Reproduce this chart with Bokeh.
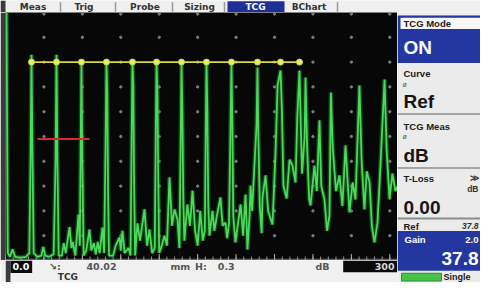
from bokeh.plotting import figure
from bokeh.layouts import column, row
from bokeh.models import Range1d
from bokeh.core.properties import value
from bokeh.embed import file_html
from bokeh.resources import INLINE

# ---------------- data ----------------
# A-scan trace: sound path (mm) and amplitude (% screen height)
trace_mm = [0.8, 1.8, 3.5, 5.5, 7.5, 12.0, 16.0, 18.6, 19.6, 20.3, 21.0, 22.0,
            25.0, 28.0, 29.5, 31.0, 34.0, 37.6, 39.1, 39.8, 40.5, 41.5,
            44.0, 45.5, 47.0, 50.0, 51.5, 52.5, 54.5, 57.0, 58.0, 58.7, 59.3, 60.0, 61.0,
            63.0, 65.6, 67.0, 69.0, 70.5, 72.0, 73.5, 75.7, 77.0, 78.2, 78.8, 79.5, 80.0, 80.8,
            84.0, 86.0, 89.0, 90.0, 91.3, 93.0, 96.0, 97.6, 98.5, 99.1, 99.8, 100.4, 101.2,
            103.0, 105.0, 108.5, 110.5, 112.4, 114.5, 116.5, 117.3, 117.9, 118.6, 119.3, 120.0,
            122.0, 124.1, 126.0, 128.0, 130.0, 131.9, 134.3, 135.8, 136.8, 137.4, 138.1, 138.8, 139.6,
            142.0, 144.0, 146.0, 148.0, 150.0, 152.0, 154.0, 155.6, 156.3, 156.9, 157.6, 158.3, 159.2,
            161.6, 163.0, 165.0, 167.8, 169.5, 171.7, 173.0, 174.5, 175.4, 176.4, 177.1, 177.8, 179.5,
            181.5, 183.5, 185.5, 187.4, 188.9, 190.5, 191.3, 192.5, 194.0, 196.0, 196.7, 197.4, 198.5,
            200.0, 200.6, 203.0, 205.0, 208.4, 210.8, 212.4, 214.7, 215.8, 217.0,
            219.5, 221.7, 224.0, 226.4, 227.8, 229.5, 230.5, 231.5, 233.5, 234.2, 235.5, 237.0,
            238.1, 241.2, 243.0, 245.1, 246.5, 249.0, 251.0, 252.9, 254.0, 255.5, 258.0, 260.7,
            263.0, 265.4, 268.5, 271.0, 273.2, 276.3, 278.0, 280.2, 282.0, 284.2, 286.0, 288.0,
            290.4, 292.7, 295.9, 297.5, 299.8, 302.0, 304.4, 306.0]
trace_amp = [100, 3, 1.5, 4.5, 1.5, 1.2, 1.5, 3, 42, 83, 45, 3,
             1.5, 2, 5.5, 2, 1.5, 2.5, 40, 83, 42, 2,
             2, 7, 3, 13.5, 5, 7.5, 2, 18.5, 6, 45, 80.6, 40, 2,
             4, 12.5, 4, 7, 2.5, 7.5, 3, 13.3, 3, 50, 79.8, 67, 30, 2,
             2, 6, 9.3, 4, 12, 3, 5, 2, 50, 80.6, 70, 30, 2,
             15, 8, 20.6, 6, 12.5, 3, 5, 50, 79.5, 68, 30, 3,
             6, 10, 6, 33.5, 14, 20.6, 16.5, 5, 50, 79, 60, 25, 8,
             22.6, 14, 28.2, 12, 6, 20, 8, 12, 50, 80.6, 60, 22, 10,
             20, 12, 18, 25.4, 14, 15.3, 9, 15, 45, 79, 55, 18, 7.3,
             15, 22.6, 10, 26.6, 4.4, 18, 30.2, 20, 35, 55, 77.8, 50, 22,
             11, 25.4, 34.3, 20, 14.5, 43.5, 70.6, 76.6, 60, 30,
             25, 40.7, 38.3, 31.5, 58, 76.6, 55, 35, 50, 73.8, 45, 25,
             22.2, 38.3, 28, 56.5, 30, 24.6, 12, 18.1, 67.7, 45, 28, 34.3,
             22, 46.4, 19.4, 31.5, 24.6, 70.6, 40, 20.6, 36, 31.5, 14, 7.3,
             15.3, 38.3, 73, 45, 24.6, 35, 28, 30]

# TCG reference points (yellow curve)
tcg_mm = [20.3, 39.8, 59.3, 78.8, 99.1, 117.9, 137.4, 156.9, 176.4, 196.7, 214.7, 229.5]
tcg_amp = [80, 80, 80, 80, 80, 80, 80, 80, 80, 80, 80, 80]

# Gate (red)
gate_mm = [25.0, 65.6]
gate_amp = [49, 49]

# screen range
range_start = 0.0
range_end = 300

tab_labels = ["Meas", "Trig", "Probe", "Sizing", "TCG", "BChart"]
active_tab = "TCG"

status_values = {"cursor": "40.02", "unit": "mm", "h": "0.3", "gain_unit": "dB"}

# ---------------- styling helpers ----------------
BEZEL = "#3b3b3b"
LIGHT = "#efefef"
BLUE = "#2436a0"
UI_FONT = value("DejaVu Sans")
PANEL_FONT = value("Liberation Sans")


def ui_fig(w, h, xr, yr, bg):
    f = figure(width=w, height=h, x_range=Range1d(*xr), y_range=Range1d(*yr),
               x_axis_type=None, y_axis_type=None, output_backend="svg",
               toolbar_location=None, min_border=0, title=None,
               background_fill_color=bg, border_fill_color=bg,
               outline_line_color=None)
    f.grid.visible = False
    return f


# ---------------- tab bar ----------------
tabs = ui_fig(480, 12, (8, 488), (20, 3), LIGHT)
tabs.quad(left=8, right=13, top=3, bottom=20, fill_color=BEZEL, line_color=None)
tab_cx = [40.5, 91.5, 152.5, 207, 263, 316.5]
tabs.quad(left=235, right=292, top=4, bottom=20, fill_color="#1f2f9a", line_color=None)
for sx in [68, 123, 180, 232, 345]:
    tabs.segment(x0=sx, y0=5, x1=sx, y1=19, line_color="#9a9a9a", line_width=1.5)
tabs.text(x=tab_cx, y=[11.5] * len(tab_cx), text=tab_labels,
          text_color=["#ffffff" if t == active_tab else "#333333" for t in tab_labels],
          text_font=UI_FONT, text_font_style="bold", text_font_size="9px",
          text_align="center", text_baseline="middle")

# ---------------- A-scan ----------------
scan = figure(width=397, height=248, x_range=Range1d(0, 306), y_range=Range1d(0, 100),
              x_axis_type=None, y_axis_type=None, output_backend="svg",
              toolbar_location=None, min_border=0, min_border_left=5, title=None,
              background_fill_color="#070707", border_fill_color=BEZEL,
              outline_line_color=None)
scan.grid.visible = False

# grid dots
gx = [30 * i for i in range(1, 11)]
gy = [10 * j for j in range(1, 10)] + [99.4]
scan.scatter(x=[a for a in gx for b in gy], y=[b for a in gx for b in gy],
             size=2.4, color="#7c7c7c", marker="circle")
# ruler at bottom
scan.segment(x0=0, y0=0.5, x1=306, y1=0.5, line_color="#7a7a7a", line_width=1)
minor = [6 * i for i in range(0, 51)]
scan.segment(x0=minor, y0=[0] * len(minor), x1=minor, y1=[1.6] * len(minor),
             line_color="#9a9a9a", line_width=1)
major = [30 * i for i in range(0, 11)]
scan.segment(x0=major, y0=[0] * len(major), x1=major, y1=[2.6] * len(major),
             line_color="#b0b0b0", line_width=1)

# trace with glow
scan.line(trace_mm, trace_amp, line_color="#1f9a2e", line_width=4.5, line_alpha=0.45)
scan.line(trace_mm, trace_amp, line_color="#4bd85b", line_width=1.8)

# TCG curve
scan.line(tcg_mm, tcg_amp, line_color="#dada3a", line_width=1.6)
scan.scatter(tcg_mm, tcg_amp, size=6, color="#e4ee6a", line_color="#c8d840")

# gate
scan.line(gate_mm, gate_amp, line_color="#d42a2a", line_width=2.2)

# ---------------- status bar ----------------
status = ui_fig(397, 22, (8, 405), (298, 268), "#f0f0f0")
status.quad(left=8, right=13, top=268, bottom=298, fill_color=BEZEL, line_color=None)
status.quad(left=13, right=35, top=268, bottom=285, fill_color="#0a0a0a", line_color=None)
status.quad(left=350, right=405, top=268, bottom=284, fill_color="#0a0a0a", line_color=None)
status.text(x=[15], y=[276], text=[f"{range_start:.1f}"], text_color="#ffffff",
            text_font=UI_FONT, text_font_style="bold", text_font_size="9.5px",
            text_baseline="middle")
status.text(x=[402], y=[276], text=[str(range_end)], text_color="#d8d8d8",
            text_font=UI_FONT, text_font_style="bold", text_font_size="9.5px",
            text_align="right", text_baseline="middle")
status.text(x=[52, 90, 175, 200, 223, 322], y=[276] * 6,
            text=["\u2198:", status_values["cursor"], status_values["unit"], "H:",
                  status_values["h"], status_values["gain_unit"]],
            text_color="#555555", text_font=UI_FONT, text_font_style="bold",
            text_font_size="9.5px", text_baseline="middle")
status.text(x=[61], y=[290], text=["TCG"], text_color="#333333", text_font=UI_FONT,
            text_font_style="bold", text_font_size="9px", text_baseline="middle")

# ---------------- right panel ----------------
panel = ui_fig(83, 270, (405, 488), (298, 20), "#ebebeb")
panel.quad(left=405, right=488, top=23, bottom=72, fill_color=BLUE, line_color=None)
panel.quad(left=408, right=488, top=25.5, bottom=37, fill_color="#f7f7f7", line_color=None)
for sy, lw in [(124.5, 1.5), (180, 1.5), (232, 2)]:
    panel.segment(x0=405, y0=sy, x1=488, y1=sy, line_color="#8c8c8c", line_width=lw)
panel.quad(left=405, right=488, top=245, bottom=286, fill_color=BLUE, line_color=None)
panel.quad(left=409, right=449, top=288.5, bottom=296.5, fill_color="#47c447",
           line_color="#2e8f2e", line_width=1)

small = dict(text_font=PANEL_FONT, text_font_style="bold", text_font_size="9.5px",
             text_baseline="middle")
big = dict(text_font=PANEL_FONT, text_font_style="bold", text_font_size="19px",
           text_baseline="middle")
panel.text(x=[411, 411, 411, 411], y=[31.5, 83, 137, 191],
           text=["TCG Mode", "Curve", "TCG Meas", "T-Loss"], text_color="#1a1a1a", **small)
panel.text(x=[411], y=[240], text=["Ref"], text_color="#1a1a1a", **small)
panel.text(x=[451], y=[292.5], text=["Single"], text_color="#1a1a1a",
           text_font=PANEL_FONT, text_font_style="bold", text_font_size="9px",
           text_baseline="middle")
panel.text(x=[412], y=[254], text=["Gain"], text_color="#ffffff", **small)
panel.text(x=[486], y=[254], text=["2.0"], text_color="#ffffff", text_align="right", **small)
panel.text(x=[411], y=[56], text=["ON"], text_color="#ffffff", **big)
panel.text(x=[411, 411, 411], y=[112, 167, 221], text=["Ref", "dB", "0.00"],
           text_color="#151515", **big)
panel.text(x=[486], y=[273], text=["37.8"], text_color="#ffffff", text_align="right", **big)
panel.text(x=[410, 410], y=[94, 148], text=["\u00f8", "\u00f8"], text_color="#2f7040",
           text_font=PANEL_FONT, text_font_size="7px", text_baseline="middle")
panel.text(x=[486, 486], y=[190, 202], text=["\u226b", "dB"], text_color="#333333",
           text_font=PANEL_FONT, text_font_style="bold", text_font_size="8.5px",
           text_align="right", text_baseline="middle")
panel.text(x=[486], y=[240], text=["37.8"], text_color="#333333",
           text_font=PANEL_FONT, text_font_style="bold italic", text_font_size="8.5px",
           text_align="right", text_baseline="middle")

layout = column(tabs, row(column(scan, status, spacing=0), panel, spacing=0), spacing=0)

open("out.html", "w").write(file_html(layout, INLINE))
